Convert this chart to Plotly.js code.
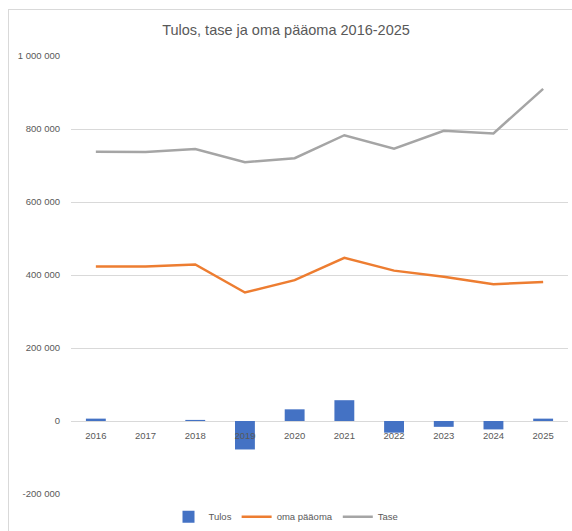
<!DOCTYPE html>
<html>
<head>
<meta charset="utf-8">
<script src="https://cdn.plot.ly/plotly-3.0.1.min.js"></script>
<style>
html,body{margin:0;padding:0;background:#fff;}
#frame{position:absolute;left:8px;top:9px;width:600px;height:600px;border-left:1px solid #d9d9d9;border-top:1px solid #d9d9d9;}
#chart{position:absolute;left:0;top:0;width:572px;height:531px;}
</style>
</head>
<body>
<div id="frame"></div>
<div id="chart"></div>
<script>
const years = ['2016','2017','2018','2019','2020','2021','2022','2023','2024','2025'];
const tulos = [6500, 0, 3000, -78000, 32000, 57000, -32000, -16000, -23000, 6500];
const omaPaaoma = [423000, 423000, 429000, 352000, 386000, 447000, 412000, 395000, 375000, 381000];
const tase = [738000, 737000, 745000, 709000, 720000, 783000, 746000, 795000, 788000, 910000];
const yTickVals = [-200000, 0, 200000, 400000, 600000, 800000, 1000000];
const yTickText = ['-200 000', '0', '200 000', '400 000', '600 000', '800 000', '1 000 000'];

const font = 'Liberation Sans, Arial, sans-serif';
const traces = [
  {type:'bar', name:'Tulos', x:years, y:tulos, marker:{color:'#4472C4'}},
  {type:'scatter', mode:'lines', name:'oma pääoma', x:years, y:omaPaaoma, line:{color:'#ED7D31', width:2.5}},
  {type:'scatter', mode:'lines', name:'Tase', x:years, y:tase, line:{color:'#A5A5A5', width:2.5}}
];
const layout = {
  width:572, height:531,
  margin:{l:71, r:4, t:56, b:37, autoexpand:false},
  paper_bgcolor:'rgba(0,0,0,0)', plot_bgcolor:'rgba(0,0,0,0)',
  font:{family:font, color:'#595959', size:9.5},
  title:{text:'Tulos, tase ja oma pääoma 2016-2025', x:0.5, xanchor:'center', y:0.943, yanchor:'middle', font:{family:font, size:14.5, color:'#595959'}},
  bargap:0.6,
  showlegend:true,
  legend:{orientation:'h', xref:'container', x:0.5, xanchor:'center', y:-0.052, yanchor:'middle', font:{size:9.5, color:'#595959'}, itemwidth:30, traceorder:'normal'},
  xaxis:{type:'category', anchor:'free', position:1/6, showgrid:false, showline:false, ticks:'', ticklabelstandoff:7, layer:'above traces', tickfont:{size:9.5, color:'#595959'}},
  yaxis:{range:[-200000, 1000000], tickvals:yTickVals, ticktext:yTickText, gridcolor:'#d9d9d9', gridwidth:1, zeroline:true, zerolinecolor:'#d9d9d9', zerolinewidth:1, showline:false, ticks:'', ticklabelstandoff:10, layer:'below traces', tickfont:{size:9.5, color:'#595959'}}
};
Plotly.newPlot('chart', traces, layout, {displayModeBar:false, staticPlot:true});
</script>
</body>
</html>
